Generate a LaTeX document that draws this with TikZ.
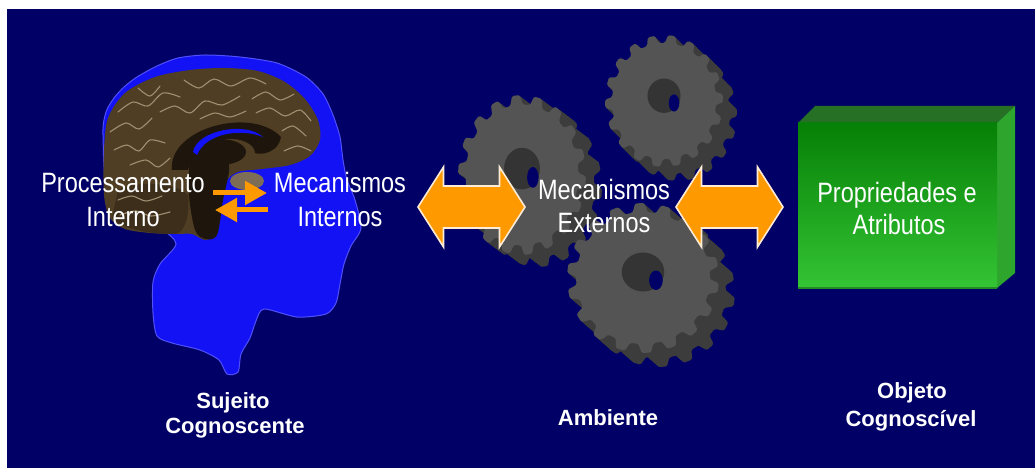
\documentclass[tikz,border=0pt]{standalone}
\usepackage{fontspec}
\setmainfont{Liberation Sans}
\newfontfamily\narrowsans{Liberation Sans}[FakeStretch=0.84]
\usetikzlibrary{arrows.meta}

\definecolor{navy}{RGB}{0,0,102}
\definecolor{headblue}{RGB}{18,18,245}
\definecolor{headrim}{RGB}{80,80,250}
\definecolor{brainbrown}{RGB}{80,62,36}
\definecolor{gyrus}{RGB}{160,143,112}
\definecolor{brainshadow}{RGB}{30,22,12}
\definecolor{pons}{RGB}{125,108,86}
\definecolor{arroworange}{RGB}{255,153,0}
\definecolor{arrowrim}{RGB}{255,236,214}
\definecolor{gearface}{RGB}{84,84,84}
\definecolor{gearside}{RGB}{60,60,60}
\definecolor{hubdark}{RGB}{52,52,52}
\definecolor{boxtop}{RGB}{38,112,38}
\definecolor{boxside}{RGB}{46,166,46}
\definecolor{boxfronttop}{RGB}{6,128,6}
\definecolor{boxfrontbot}{RGB}{52,196,52}
\definecolor{boxedge}{RGB}{36,140,36}

\tikzset{
  toplabel/.style={text=white, font=\narrowsans\fontsize{28}{33}\selectfont, anchor=base, inner sep=0pt},
  bottomlabel/.style={text=white, font=\bfseries\fontsize{22}{25}\selectfont, anchor=base, inner sep=0pt},
  smallarrow/.style={draw=arroworange, line width=5pt, -{Triangle[length=22pt,width=23pt]}},
  gyri/.style={draw=gyrus, line width=1.1pt, line cap=round},
  pics/bigarrow/.style={code={
    \path[fill=arroworange, draw=arrowrim, line width=1.6pt, line join=miter]
      (-53.5,0) -- (-28,-40) -- (-28,-21) -- (28,-21) -- (28,-40) -- (53.5,0)
      -- (28,40) -- (28,21) -- (-28,21) -- (-28,40) -- cycle;
  }},
  pics/gearwheel/.style={code={
    \path[pic actions, rounded corners=1.5pt] (0:0.88) \foreach \k in {0,...,17}{
      -- (\k*20+3:0.88) -- (\k*20+6:1) -- (\k*20+13:1)
      -- (\k*20+16:0.88) -- (\k*20+20:0.88)} -- cycle;
  }}
}

% gear: centre x, centre y, x radius, y radius, depth dx, depth dy, tooth phase
\newcommand{\thickgear}[7]{%
  \foreach \t in {12,11,...,1}{
    \pic[fill=gearside] at ({#1+#5*\t/12},{#2+#6*\t/12}) [xscale=#3, yscale=#4, rotate=#7] {gearwheel};
  }
  \pic[fill=gearface] at (#1,#2) [xscale=#3, yscale=#4, rotate=#7] {gearwheel};
  \fill[hubdark] ({#1},{#2-0.08*#4}) ellipse [x radius={0.28*#3}, y radius={0.26*#4}];
  \fill[navy] ({#1+0.17*#3},{#2+0.03*#4}) ellipse [x radius={0.09*#3}, y radius={0.13*#4}];
}

\begin{document}
\begin{tikzpicture}[x=1pt,y=-1pt]
\useasboundingbox (0,0) rectangle (1035,470);
\fill[white] (0,0) rectangle (1035,470);
\fill[navy] (7,9) rectangle (1035,468);

% ---------- head silhouette ----------
\filldraw[fill=headblue, draw=headrim, line width=1pt]
  plot[smooth cycle, tension=0.45] coordinates {
    (103,135) (106,112) (114,98) (124,87) (137,77) (157,66) (178,58) (205,55)
    (240,57) (277,63) (306,77) (323,94) (333,115) (340,137) (343,160) (347,180)
    (355,200) (361,228) (351,246) (344,264) (340,284) (336,303) (326,314)
    (297,317) (264,309) (256,321) (250,338) (241,354) (238,372) (227,374)
    (219,360) (200,350) (172,343) (157,336) (153,313) (153,282) (160,264)
    (176,244) (160,228) (110,200)};

% ---------- brain ----------
\fill[brainbrown] plot[smooth cycle, tension=0.5] coordinates {
  (104,150) (108,118) (125,93) (155,77) (190,70) (225,68) (258,71) (285,82)
  (305,99) (318,120) (320,140) (310,156) (290,165) (262,169) (238,172)
  (226,182) (221,208) (217,233) (205,240) (192,234) (176,234) (150,233)
  (125,229) (110,218) (104,195)};
\fill[pons] (247,181) ellipse [x radius=17, y radius=9];
\fill[brainshadow] plot[smooth cycle, tension=0.5] coordinates {
  (191,160) (212,150) (229,165) (223,200) (217,235) (205,239) (195,230) (189,195)};
\fill[brainshadow] (220,152) ellipse [x radius=26, y radius=13];
\fill[brainshadow] (172,170) .. controls (168,128) and (252,106) .. (281,137)
  .. controls (279,151) and (263,156) .. (255,153)
  .. controls (255,135) and (200,128) .. (188,170) -- cycle;
\fill[headblue] (193,152) .. controls (197,130) and (246,121) .. (263,137)
  .. controls (241,128) and (206,133) .. (197,155) -- cycle;
\fill[brainbrown!75!black] (118,190) .. controls (140,180) and (175,182) .. (188,195)
  .. controls (190,215) and (185,232) .. (176,234) .. controls (150,234) and (125,230) .. (112,218) -- cycle;

% folds of the cortex
\draw[gyri] plot[smooth] coordinates {(118,112) (133,102) (148,106) (163,93) (180,97)};
\draw[gyri] plot[smooth] coordinates {(110,132) (126,123) (139,129) (152,118)};
\draw[gyri] plot[smooth] coordinates {(184,80) (199,88) (214,79) (231,86) (250,78) (266,84)};
\draw[gyri] plot[smooth] coordinates {(160,112) (175,106) (190,113) (205,101) (222,105) (240,96)};
\draw[gyri] plot[smooth] coordinates {(252,99) (266,92) (280,100) (294,94)};
\draw[gyri] plot[smooth] coordinates {(256,113) (270,108) (285,116) (300,110) (311,121)};
\draw[gyri] plot[smooth] coordinates {(282,131) (293,126) (306,136)};
\draw[gyri] plot[smooth] coordinates {(114,150) (127,145) (139,151) (150,140) (165,143)};
\draw[gyri] plot[smooth] coordinates {(130,165) (146,160) (158,167) (170,158)};
\draw[gyri] plot[smooth] coordinates {(200,119) (215,113) (230,117) (246,111)};
\draw[gyri] plot[smooth] coordinates {(284,151) (298,146) (311,151)};
\draw[gyri] plot[smooth] coordinates {(138,88) (150,96) (160,86)};
\draw[gyri] plot[smooth] coordinates {(118,200) (132,196) (146,201) (162,196)};
\draw[gyri] plot[smooth] coordinates {(120,215) (136,211) (151,216) (170,212)};

% internal processing arrows
\coordinate (intA) at (213,193);
\coordinate (intB) at (267,193);
\coordinate (intC) at (268,210);
\coordinate (intD) at (215,210);
\draw[smallarrow] (intA) -- (intB);
\draw[smallarrow] (intC) -- (intD);

% ---------- gears ----------
\thickgear{522}{175}{64}{80}{16}{12}{5}
\thickgear{664}{101}{59}{66}{14}{14}{12}
\thickgear{643}{278}{76}{75}{16}{14}{2}

% ---------- object block ----------
\fill[boxtop] (798,123) -- (815,106) -- (1015,106) -- (997,123) -- cycle;
\fill[boxside] (997,123) -- (1015,106) -- (1015,273) -- (997,288) -- cycle;
\shade[top color=boxfronttop, bottom color=boxfrontbot] (798,123) rectangle (997,288);
\draw[boxedge, line width=2pt] (798,288) -- (997,288);

% ---------- exchange arrows ----------
\pic (arrowL) at (471.5,207) {bigarrow};
\pic (arrowR) at (729.5,207) {bigarrow};

% ---------- labels ----------
\node[toplabel] (proc1) at (123,193) {Processamento};
\node[toplabel] (proc2) at (123,226) {Interno};
\node[toplabel] (mint1) at (340,193) {Mecanismos};
\node[toplabel] (mint2) at (340,226) {Internos};
\node[toplabel] (mext1) at (604,200) {Mecanismos};
\node[toplabel] (mext2) at (604,233) {Externos};
\node[toplabel] (prop1) at (897,203) {Propriedades e};
\node[toplabel] (prop2) at (899,235) {Atributos};

\node[bottomlabel] (suj1) at (233,408) {Sujeito};
\node[bottomlabel] (suj2) at (235,433) {Cognoscente};
\node[bottomlabel] (amb) at (608,425) {Ambiente};
\node[bottomlabel] (obj1) at (912,398) {Objeto};
\node[bottomlabel] (obj2) at (911,426) {Cognoscível};
\end{tikzpicture}
\end{document}
